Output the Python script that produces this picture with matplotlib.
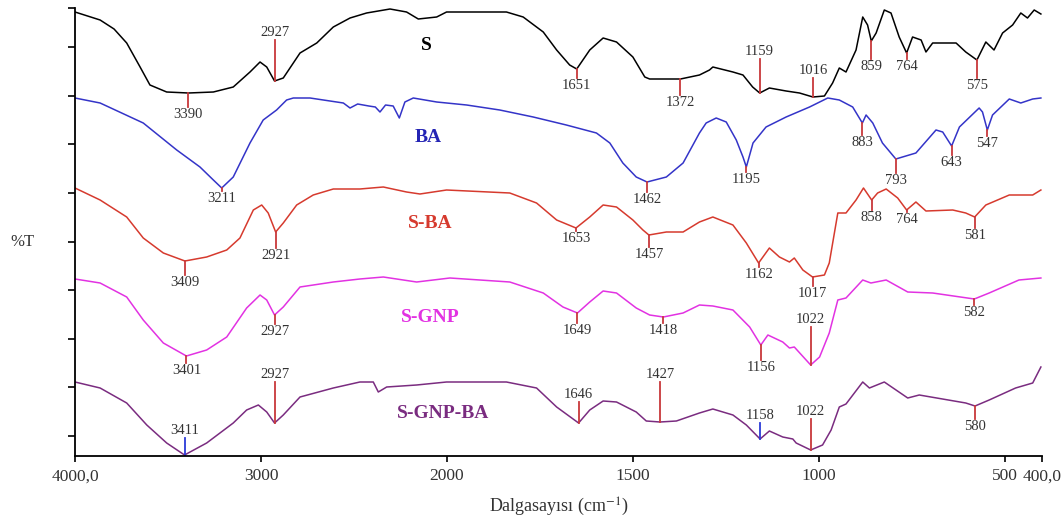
import numpy as np
import matplotlib.pyplot as plt

plt.rcParams['font.family'] = ['Liberation Serif', 'DejaVu Serif']
plt.rcParams['mathtext.fontset'] = 'stix'

# FTIR spectra, wavenumber (cm-1) vs stacked %T (arbitrary offset units)
S_wn = [4000, 3865, 3790, 3722, 3650, 3597, 3507, 3390, 3256, 3149, 3059, 3005, 2969, 2927, 2880, 2790,
        2700, 2611, 2521, 2432, 2306, 2217, 2154, 2055, 2002, 1840, 1795, 1741, 1705, 1670, 1651,
        1616, 1580, 1544, 1500, 1468, 1455, 1372, 1321, 1294, 1285, 1231, 1204, 1178, 1159, 1133,
        1088, 1052, 1016, 985, 963, 945, 927, 900, 882, 869, 859, 846, 824, 806, 784, 764, 748,
        725, 712, 694, 631, 605, 575, 551, 529, 506, 479, 457, 439, 421, 403]
S_T = [444, 436, 427, 413, 389, 371, 364, 363, 364, 369, 384, 394, 389, 375, 378, 403,
       413, 429, 438, 443, 447, 444, 437, 439, 444, 444, 439, 424, 406, 391, 387,
       406, 418, 414, 399, 379, 377, 377, 381, 386, 389, 384, 381, 369, 363, 368,
       365, 363, 359, 360, 373, 388, 384, 406, 439, 431, 415, 423, 446, 443, 419, 403, 419,
       416, 404, 413, 413, 404, 396, 414, 406, 423, 431, 443, 438, 446, 442]

BA_wn = [4000, 3865, 3633, 3453, 3328, 3256, 3211, 3149, 3059, 2988, 2916, 2862, 2826, 2736, 2557,
         2521, 2480, 2420, 2385, 2360, 2330, 2289, 2256, 2226, 2181, 2055, 1947, 1858, 1768, 1679,
         1598, 1562, 1527, 1491, 1462, 1410, 1365, 1321, 1303, 1276, 1249, 1222, 1204, 1195, 1177,
         1142, 1088, 1025, 976, 945, 909, 883, 873, 855, 829, 793, 739, 685, 667, 643, 622, 569,
         560, 547, 533, 488, 457, 425, 403]
BA_T = [358, 353, 333, 306, 289, 276, 268, 279, 313, 336, 346, 356, 358, 358, 353,
        348, 352, 350, 349, 344, 351, 350, 338, 354, 358, 354, 351, 346, 339, 331,
        323, 313, 293, 279, 274, 279, 293, 323, 333, 338, 334, 316, 299, 289, 313,
        329, 339, 349, 358, 356, 349, 333, 341, 333, 313, 297, 303, 326, 324, 310, 329, 348,
        344, 326, 341, 357, 353, 357, 358]

SBA_wn = [4000, 3865, 3722, 3633, 3525, 3409, 3292, 3184, 3113, 3041, 2996, 2961, 2921, 2880, 2808,
          2719, 2611, 2468, 2342, 2217, 2145, 2002, 1831, 1759, 1705, 1653, 1616, 1580, 1544, 1500,
          1473, 1457, 1410, 1365, 1321, 1285, 1231, 1195, 1162, 1133, 1106, 1079, 1066, 1043, 1017,
          985, 972, 949, 927, 900, 880, 858, 842, 819, 788, 764, 739, 712, 640, 605, 581, 551,
          488, 425, 403]
SBA_T = [268, 256, 239, 218, 203, 195, 199, 206, 218, 246, 251, 243, 224, 233, 251,
         261, 267, 267, 269, 264, 262, 266, 263, 253, 236, 228, 239, 251, 249, 236,
         226, 221, 224, 224, 234, 239, 231, 213, 193, 208, 199, 194, 198, 186, 179,
         181, 193, 243, 243, 256, 268, 256, 263, 267, 258, 246, 254, 245, 246, 243, 239, 251,
         261, 261, 266]

SGNP_wn = [4000, 3865, 3722, 3633, 3525, 3401, 3292, 3184, 3077, 3005, 2969, 2927, 2880, 2790, 2611,
           2468, 2342, 2163, 1992, 1831, 1741, 1688, 1649, 1616, 1580, 1544, 1491, 1455, 1418, 1365,
           1321, 1285, 1231, 1186, 1156, 1137, 1097, 1079, 1066, 1022, 998, 972, 949, 927, 882,
           860, 819, 761, 694, 582, 542, 462, 403]
SGNP_T = [177, 173, 159, 136, 113, 100, 106, 119, 148, 161, 156, 141, 149, 169, 174,
          177, 179, 174, 178, 174, 163, 149, 143, 154, 165, 163, 148, 141, 139, 143,
          151, 150, 146, 129, 111, 121, 114, 108, 109, 91, 99, 123, 156, 158, 176,
          173, 176, 164, 163, 157, 163, 176, 178]

SGNPBA_wn = [4000, 3865, 3722, 3614, 3507, 3411, 3292, 3149, 3077, 3014, 2969, 2927, 2880, 2790, 2611,
             2468, 2396, 2369, 2324, 2163, 2002, 1840, 1759, 1705, 1646, 1616, 1580, 1544, 1491, 1464,
             1427, 1383, 1321, 1285, 1231, 1195, 1158, 1133, 1097, 1070, 1061, 1022, 990, 967, 945,
             927, 882, 864, 824, 761, 730, 605, 580, 542, 471, 425, 403]
SGNPBA_T = [74, 68, 53, 31, 13, 1, 13, 33, 46, 51, 44, 33, 41, 59, 68,
            74, 74, 64, 69, 71, 74, 74, 68, 49, 33, 46, 55, 54, 44, 35,
            34, 35, 43, 47, 41, 31, 17, 25, 19, 17, 13, 6, 11, 26, 49,
            52, 74, 68, 74, 58, 61, 53, 50, 56, 68, 73, 89]

series_names = ['S', 'BA', 'S-BA', 'S-GNP', 'S-GNP-BA']

# peak marks: wavenumber, %T at curve, %T at end of marker
S_peaks = [(3390, 363, 349), (2927, 375, 416), (1651, 387, 378), (1372, 377, 361),
           (1159, 363, 397), (1016, 359, 378), (859, 415, 397), (764, 403, 397), (575, 396, 378)]
BA_peaks = [(3211, 268, 265), (1462, 274, 264), (1195, 289, 284), (883, 333, 321),
            (793, 297, 283), (643, 310, 301), (547, 326, 320)]
SBA_peaks = [(3409, 195, 181), (2921, 224, 208), (1653, 228, 225), (1457, 221, 209),
             (1162, 193, 189), (1017, 179, 170), (858, 256, 246), (764, 246, 244), (581, 239, 228)]
SGNP_peaks = [(3401, 100, 93), (2927, 141, 132), (1649, 143, 133), (1418, 139, 133),
              (1156, 111, 96), (1022, 91, 129), (582, 157, 151)]
SGNPBA_peaks = [(3411, 1, 18), (2927, 33, 74), (1646, 33, 54), (1427, 34, 74),
                (1158, 17, 33), (1022, 6, 37), (580, 50, 37)]
blue_marks = [3411, 1158]

xticks = [4000, 3000, 2000, 1500, 1000, 500, 400]
xticklabels = ['4000,0', '3000', '2000', '1500', '1000', '500', '400,0']


def fwd(x):
    x = np.asarray(x, dtype=float)
    return np.where(x > 2000, 2000 + (x - 2000) / 2.0, x)


def inv(x):
    x = np.asarray(x, dtype=float)
    return np.where(x > 2000, 2000 + (x - 2000) * 2.0, x)


fig = plt.figure(figsize=(10.64, 5.17), dpi=100)
ax = fig.add_axes([75 / 1064, 61 / 517, 967 / 1064, 448 / 517])
ax.set_xscale('function', functions=(fwd, inv))

curves = [(S_wn, S_T, 'black'), (BA_wn, BA_T, '#3434C8'), (SBA_wn, SBA_T, '#D63A2E'),
          (SGNP_wn, SGNP_T, '#E232E2'), (SGNPBA_wn, SGNPBA_T, '#7A2C80')]
for wn, t, c in curves:
    ax.plot(wn, t, color=c, lw=1.1, solid_joinstyle='round')

mark_red = '#C8383A'
for peaks in [S_peaks, BA_peaks, SBA_peaks, SGNP_peaks, SGNPBA_peaks]:
    for wn, y0, y1 in peaks:
        col = '#2B3BD8' if (peaks is SGNPBA_peaks and wn in blue_marks) else mark_red
        ax.plot([wn, wn], [y0, y1], color=col, lw=1.3)
        up = y1 > y0
        ax.annotate(str(wn), (wn, y1), xytext=(0, 1 if up else -1), textcoords='offset points',
                    ha='center', va='bottom' if up else 'top', fontsize=10.5, color='#333333')

label_pos = [(2109, 411), (2102, 319), (2091, 233), (2091, 139), (2021, 43)]
label_cols = ['black', '#2424B4', '#D63A2E', '#E232E2', '#7A2C80']
for name, (x, y), c in zip(series_names, label_pos, label_cols):
    ax.text(x, y, name, ha='center', va='center', fontsize=14, fontweight='bold', color=c)

ax.set_xlim(4000, 400)
ax.set_ylim(0, 448)
ax.set_xticks(xticks)
ax.set_xticklabels(xticklabels)
ax.set_yticks(list(np.arange(20, 410, 48.6)) + [448])
ax.set_yticklabels([])
ax.minorticks_off()
ax.tick_params(axis='x', direction='out', length=4, width=1.2, labelsize=12.5,
               labelcolor='#333333', pad=5)
ax.tick_params(axis='y', direction='out', length=5, width=1.2)
for side in ['top', 'right']:
    ax.spines[side].set_visible(False)
for side in ['left', 'bottom']:
    ax.spines[side].set_linewidth(1.3)

ax.set_xlabel('Dalgasayısı (cm$^{-1}$)', fontsize=13, color='#333333', labelpad=8)
fig.text(22 / 1064, 1 - 242 / 517, '%T', ha='center', va='center', fontsize=12, color='#333333')

fig.savefig('out.png', dpi=100)
